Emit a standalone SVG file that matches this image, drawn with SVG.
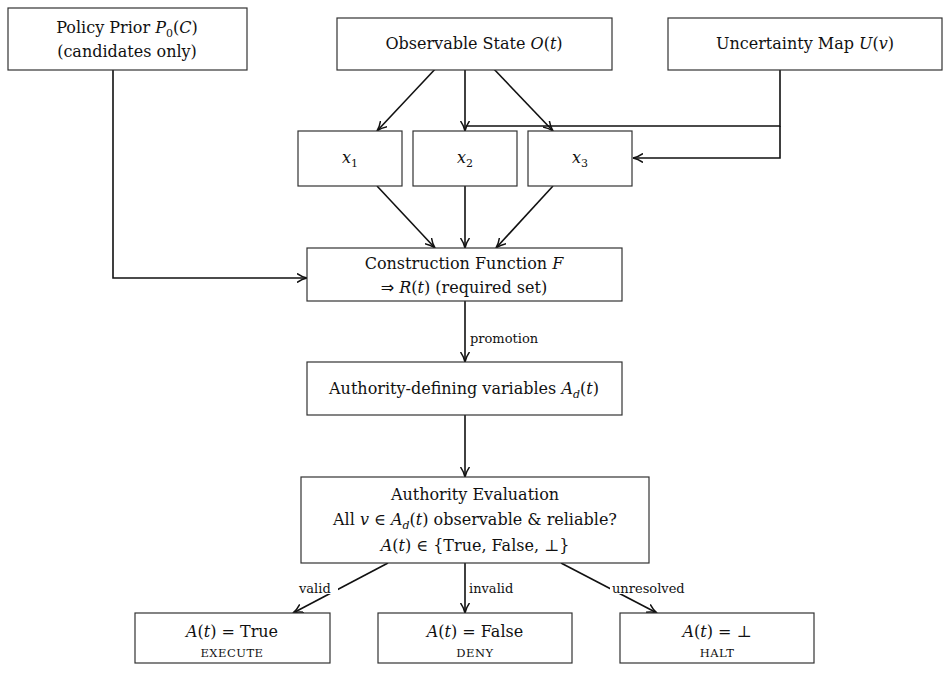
<svg xmlns="http://www.w3.org/2000/svg" width="950" height="693" viewBox="0 0 950 693">
<style>
.b{fill:#fff;stroke:#333;stroke-width:1.2}
text{font-family:"DejaVu Serif","Liberation Serif",serif;font-size:16px;fill:#111;text-anchor:middle}
.s{font-size:13px;text-anchor:start}
.sc{font-size:11.5px;letter-spacing:0.5px}
.c{fill:none;stroke:#111;stroke-width:1.6}
</style>
<defs><marker id="a" markerWidth="12" markerHeight="10" refX="10" refY="5" orient="auto" markerUnits="userSpaceOnUse"><path d="M0,0.5 Q5,4 10,5 Q5,6 0,9.5" fill="none" stroke="#111" stroke-width="1.5"/></marker></defs>
<g id="connectors">
<path class="c" marker-end="url(#a)" d="M438,66L377,131"/>
<path class="c" marker-end="url(#a)" d="M465,66V131"/>
<path class="c" marker-end="url(#a)" d="M491,66L553,131"/>
<path class="c" d="M780,70V126H466"/>
<path class="c" marker-end="url(#a)" d="M780,126V158H633"/>
<path class="c" marker-end="url(#a)" d="M377,186L435,248"/>
<path class="c" marker-end="url(#a)" d="M465,186V248"/>
<path class="c" marker-end="url(#a)" d="M553,186L496,248"/>
<path class="c" marker-end="url(#a)" d="M113,70V278H307"/>
<path class="c" marker-end="url(#a)" d="M465,301V362"/>
<path class="c" marker-end="url(#a)" d="M465,415V477"/>
<path class="c" marker-end="url(#a)" d="M388,563L293,613"/>
<path class="c" marker-end="url(#a)" d="M465,563V613"/>
<path class="c" marker-end="url(#a)" d="M561,563L657,613"/>
<text class="s" x="470" y="343">promotion</text>
<rect x="298" y="580" width="40" height="14" fill="#fff"/>
<text class="s" x="299" y="593">valid</text>
<text class="s" x="469" y="593">invalid</text>
<rect x="610" y="580" width="86" height="14" fill="#fff"/>
<text class="s" x="612" y="593">unresolved</text>
</g>
<g id="policy"><rect class="b" x="8" y="8" width="239" height="62"/><text x="127" y="33">Policy Prior <tspan font-style="italic">P</tspan><tspan font-size="11" dy="4">0</tspan><tspan dy="-4">(</tspan><tspan font-style="italic">C</tspan>)</text><text x="127" y="57">(candidates only)</text></g>
<g id="observable"><rect class="b" x="337" y="18" width="275" height="52"/><text x="474" y="49">Observable State <tspan font-style="italic">O</tspan>(<tspan font-style="italic">t</tspan>)</text></g>
<g id="uncertainty"><rect class="b" x="668" y="18" width="274" height="52"/><text x="805" y="49">Uncertainty Map <tspan font-style="italic">U</tspan>(<tspan font-style="italic">v</tspan>)</text></g>
<g id="x1"><rect class="b" x="298" y="131" width="104" height="55"/><text x="350" y="163"><tspan font-style="italic">x</tspan><tspan font-size="11" dy="4">1</tspan></text></g>
<g id="x2"><rect class="b" x="413" y="131" width="104" height="55"/><text x="465" y="163"><tspan font-style="italic">x</tspan><tspan font-size="11" dy="4">2</tspan></text></g>
<g id="x3"><rect class="b" x="528" y="131" width="104" height="55"/><text x="580" y="163"><tspan font-style="italic">x</tspan><tspan font-size="11" dy="4">3</tspan></text></g>
<g id="construction"><rect class="b" x="307" y="248" width="315" height="53"/><text x="464" y="269">Construction Function <tspan font-style="italic">F</tspan></text><text x="464" y="293"><tspan font-family="DejaVu Sans, sans-serif">⇒</tspan> <tspan font-style="italic">R</tspan>(<tspan font-style="italic">t</tspan>) (required set)</text></g>
<g id="authvars"><rect class="b" x="307" y="362" width="315" height="53"/><text x="464" y="394">Authority-defining variables <tspan font-style="italic">A</tspan><tspan font-size="11" dy="4" font-style="italic">d</tspan><tspan dy="-4">(</tspan><tspan font-style="italic">t</tspan>)</text></g>
<g id="evaluation"><rect class="b" x="301" y="477" width="348" height="86"/><text x="475" y="500">Authority Evaluation</text><text x="475" y="525">All <tspan font-style="italic">v</tspan> ∈ <tspan font-style="italic">A</tspan><tspan font-size="11" dy="4" font-style="italic">d</tspan><tspan dy="-4">(</tspan><tspan font-style="italic">t</tspan>) observable &amp; reliable?</text><text x="475" y="551" font-size="14.5"><tspan font-style="italic">A</tspan>(<tspan font-style="italic">t</tspan>) ∈ {True, False, ⊥}</text></g>
<g id="execute"><rect class="b" x="135" y="613" width="195" height="50"/><text x="232" y="637"><tspan font-style="italic">A</tspan>(<tspan font-style="italic">t</tspan>) = True</text><text class="sc" x="232" y="657">EXECUTE</text></g>
<g id="deny"><rect class="b" x="378" y="613" width="194" height="50"/><text x="475" y="637"><tspan font-style="italic">A</tspan>(<tspan font-style="italic">t</tspan>) = False</text><text class="sc" x="475" y="657">DENY</text></g>
<g id="halt"><rect class="b" x="620" y="613" width="194" height="50"/><text x="717" y="637"><tspan font-style="italic">A</tspan>(<tspan font-style="italic">t</tspan>) = ⊥</text><text class="sc" x="717" y="657">HALT</text></g>
</svg>
